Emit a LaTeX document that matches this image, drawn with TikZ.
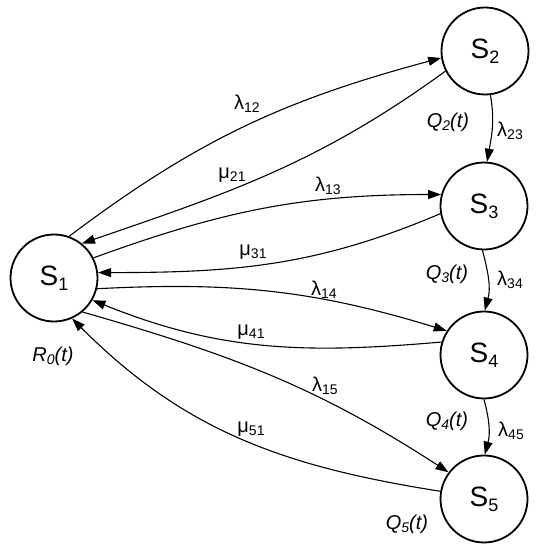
\documentclass[tikz,border=0pt]{standalone}
\usepackage{fontspec}
\setmainfont{Liberation Sans}
\usetikzlibrary{arrows.meta}
\newcommand\stlab[1]{S\raisebox{-5pt}{\fontsize{18}{18}\selectfont #1}}
\newcommand\trlab[2]{#1\raisebox{-3pt}{\fontsize{14}{14}\selectfont #2}}
\newcommand\qlab[2]{\itshape #1\raisebox{-3pt}{\fontsize{14}{14}\selectfont #2}(t)}
\begin{document}
\begin{tikzpicture}[x=1pt,y=1pt,
  state/.style={circle,draw,line width=1.8pt,minimum size=87pt,inner sep=0pt,font=\fontsize{28}{28}\selectfont},
  conn/.style={line width=1.1pt,-{Triangle[length=13pt,width=9pt]}},
  lbl/.style={inner sep=0pt,font=\fontsize{20}{20}\selectfont}]
\useasboundingbox (0,0) rectangle (542,550);
\node[state] (S1) at (54,272) {\stlab{1}};
\node[state] (S2) at (485,499) {\stlab{2}};
\node[state] (S3) at (484,344) {\stlab{3}};
\node[state] (S4) at (484,195) {\stlab{4}};
\node[state] (S5) at (484,51) {\stlab{5}};
\draw[conn] (S1.70) to[out=37,in=195] (S2.189);
\draw[conn] (S2.207) to[out=216,in=19] (S1.51);
\draw[conn] (S1.27) to[out=20,in=180] (S3.165);
\draw[conn] (S3.190) to[out=203,in=0] (S1.7);
\draw[conn] (S1.-14) to[out=3,in=163] (S4.147);
\draw[conn] (S4.163) to[out=185,in=-22] (S1.-30);
\draw[conn] (S1.-50) to[out=-16,in=147] (S5.143);
\draw[conn] (S5.170) to[out=171,in=-45] (S1.-66);
\draw[conn] (S2.-83) to[out=-80,in=80] (S3.86);
\draw[conn] (S3.-92) to[out=-75,in=75] (S4.89);
\draw[conn] (S4.-90) to[out=-75,in=75] (S5.89);
\node[lbl] (l12) at (247,446) {\trlab{λ}{12}};
\node[lbl] (m21) at (232,375) {\trlab{μ}{21}};
\node[lbl] (l13) at (328,364) {\trlab{λ}{13}};
\node[lbl] (m31) at (253,298) {\trlab{μ}{31}};
\node[lbl] (l14) at (324,260) {\trlab{λ}{14}};
\node[lbl] (m41) at (251,218) {\trlab{μ}{41}};
\node[lbl] (l15) at (325,164) {\trlab{λ}{15}};
\node[lbl] (m51) at (251,121) {\trlab{μ}{51}};
\node[lbl] (l23) at (510,419) {\trlab{λ}{23}};
\node[lbl] (l34) at (510,270) {\trlab{λ}{34}};
\node[lbl] (l45) at (511,119) {\trlab{λ}{45}};
\node[lbl] (q2) at (448,428) {\qlab{Q}{2}};
\node[lbl] (q3) at (447,276) {\qlab{Q}{3}};
\node[lbl] (q4) at (447,129) {\qlab{Q}{4}};
\node[lbl] (q5) at (407,26) {\qlab{Q}{5}};
\node[lbl] (r0) at (53,194) {\qlab{R}{0}};
\end{tikzpicture}
\end{document}
